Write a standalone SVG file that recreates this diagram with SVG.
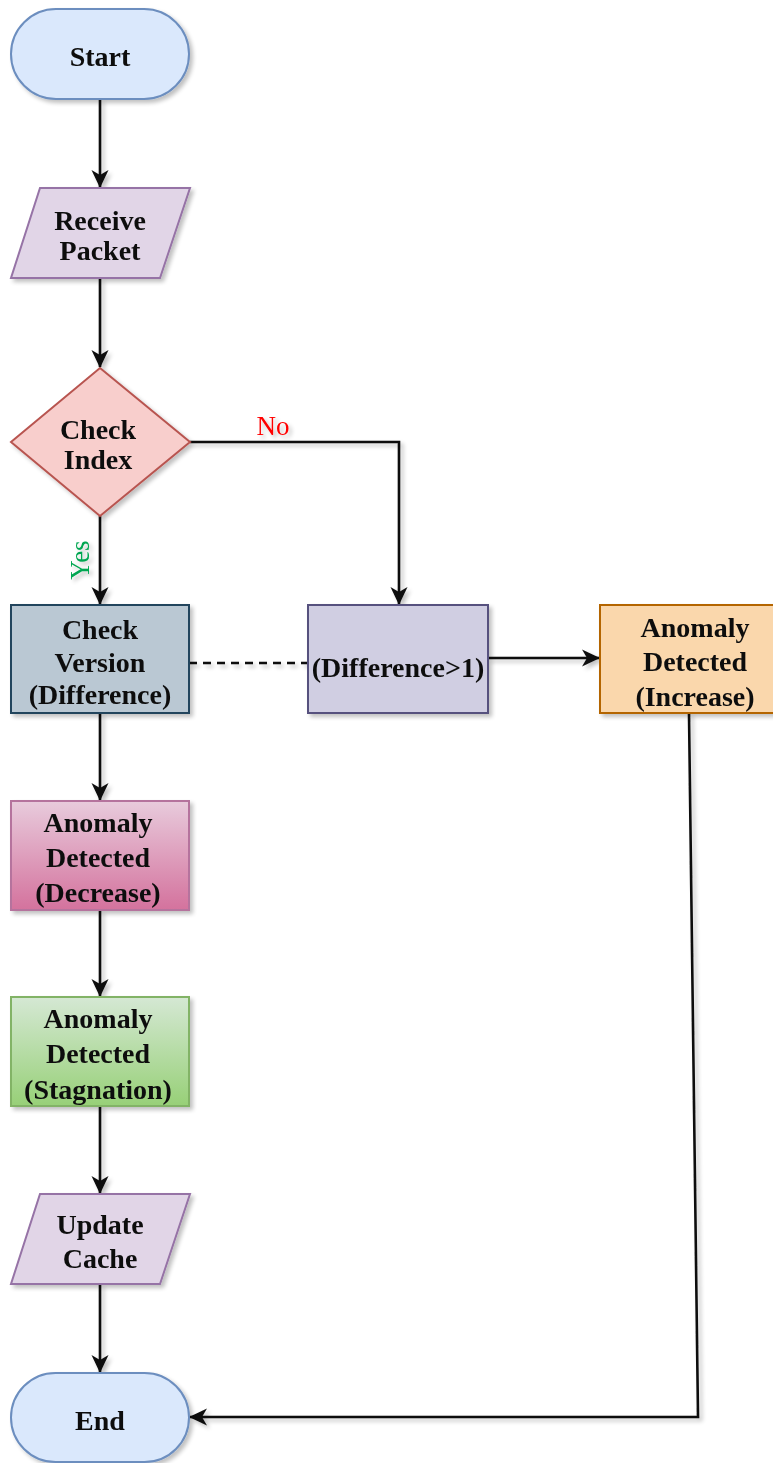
<svg xmlns="http://www.w3.org/2000/svg" width="773" height="1463" viewBox="0 0 773 1463">
<style>
text{font-family:"Liberation Serif","Times New Roman",serif;font-weight:bold;font-size:28px;fill:#111;text-anchor:middle;dominant-baseline:central}
.c{fill:none;stroke:#111;stroke-width:2.6}
.lbl{font-weight:normal;font-size:27px}
</style>
<defs>
<filter id="sh" x="-20%" y="-20%" width="150%" height="150%">
<feGaussianBlur in="SourceAlpha" stdDeviation="2"/>
<feOffset dx="3" dy="3" result="b"/>
<feComponentTransfer><feFuncA type="linear" slope="0.25"/></feComponentTransfer>
<feMerge><feMergeNode/><feMergeNode in="SourceGraphic"/></feMerge>
</filter>
<linearGradient id="gDec" x1="0" y1="0" x2="0" y2="1"><stop offset="0" stop-color="#e8cbdc"/><stop offset="1" stop-color="#d4729d"/></linearGradient>
<linearGradient id="gSta" x1="0" y1="0" x2="0" y2="1"><stop offset="0" stop-color="#d5e8d4"/><stop offset="1" stop-color="#97d077"/></linearGradient>
<marker id="ar" viewBox="0 0 18 18" refX="17" refY="9" markerWidth="18" markerHeight="18" markerUnits="userSpaceOnUse" orient="auto">
<path d="M0,0.5 L18,9 L0,17.5 L5,9 Z" fill="#111"/>
</marker>
</defs>
<g id="connectors" filter="url(#sh)">
<path class="c" d="M100,99 V187" marker-end="url(#ar)"/>
<path class="c" d="M100,278 V367" marker-end="url(#ar)"/>
<path class="c" d="M100,516 V604" marker-end="url(#ar)"/>
<path class="c" d="M190,442 H399 V604" marker-end="url(#ar)"/>
<path class="c" d="M189,663 H308" stroke-dasharray="8,6"/>
<path class="c" d="M488,658 H599" marker-end="url(#ar)"/>
<path class="c" d="M100,713 V800" marker-end="url(#ar)"/>
<path class="c" d="M100,910 V996" marker-end="url(#ar)"/>
<path class="c" d="M100,1106 V1193" marker-end="url(#ar)"/>
<path class="c" d="M100,1284 V1372" marker-end="url(#ar)"/>
<path class="c" d="M689,713 L698,1417 H190" marker-end="url(#ar)"/>
<text class="lbl" x="273" y="426" style="fill:#ff0000">No</text>
<text class="lbl" x="80" y="560" style="fill:#00a651" transform="rotate(-90 80 560)">Yes</text>
</g>
<g id="start" filter="url(#sh)">
<rect x="11" y="9" width="178" height="90" rx="45" ry="45" fill="#dae8fc" stroke="#6c8ebf" stroke-width="2"/>
<text x="100" y="56">Start</text>
</g>
<g id="receive" filter="url(#sh)">
<path d="M40,188 H190 L160,278 H11 Z" fill="#e1d5e7" stroke="#9673a6" stroke-width="2"/>
<text x="100" y="220">Receive</text>
<text x="100" y="250">Packet</text>
</g>
<g id="checkIndex" filter="url(#sh)">
<path d="M100,368 L190,442 L100,516 L11,442 Z" fill="#f8cecc" stroke="#b85450" stroke-width="2"/>
<text x="98" y="429">Check</text>
<text x="98" y="459">Index</text>
</g>
<g id="checkVersion" filter="url(#sh)">
<rect x="11" y="605" width="178" height="108" fill="#bac8d3" stroke="#23445d" stroke-width="2"/>
<text x="100" y="629">Check</text>
<text x="100" y="662">Version</text>
<text x="100" y="694">(Difference)</text>
</g>
<g id="difference" filter="url(#sh)">
<rect x="308" y="605" width="180" height="108" fill="#d0cee2" stroke="#56517e" stroke-width="2"/>
<text x="398" y="667">(Difference&gt;1)</text>
</g>
<g id="increase" filter="url(#sh)">
<rect x="600" y="605" width="190" height="108" fill="#fad7ac" stroke="#b46504" stroke-width="2"/>
<text x="695" y="627">Anomaly</text>
<text x="695" y="661">Detected</text>
<text x="695" y="696">(Increase)</text>
</g>
<g id="decrease" filter="url(#sh)">
<rect x="11" y="801" width="178" height="109" fill="url(#gDec)" stroke="#b5739d" stroke-width="2"/>
<text x="98" y="822">Anomaly</text>
<text x="98" y="857">Detected</text>
<text x="98" y="892">(Decrease)</text>
</g>
<g id="stagnation" filter="url(#sh)">
<rect x="11" y="997" width="178" height="109" fill="url(#gSta)" stroke="#82b366" stroke-width="2"/>
<text x="98" y="1018">Anomaly</text>
<text x="98" y="1053">Detected</text>
<text x="98" y="1089">(Stagnation)</text>
</g>
<g id="update" filter="url(#sh)">
<path d="M40,1194 H190 L160,1284 H11 Z" fill="#e1d5e7" stroke="#9673a6" stroke-width="2"/>
<text x="100" y="1224">Update</text>
<text x="100" y="1258">Cache</text>
</g>
<g id="end" filter="url(#sh)">
<rect x="11" y="1373" width="178" height="89" rx="44.5" ry="44.5" fill="#dae8fc" stroke="#6c8ebf" stroke-width="2"/>
<text x="100" y="1420">End</text>
</g>
</svg>
